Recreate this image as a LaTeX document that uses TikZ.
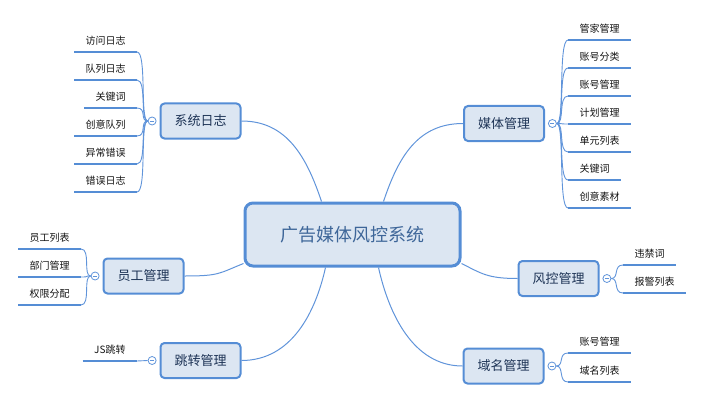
\documentclass[tikz,border=0pt]{standalone}
\usepackage{fontspec}
\setmainfont{Noto Sans CJK SC}
\usepackage{xcolor}
\usepackage{tikz}
\usetikzlibrary{positioning}
\definecolor{mapblue}{RGB}{85,141,213}
\definecolor{linkblue}{RGB}{96,148,218}
\definecolor{boxfill}{RGB}{220,230,242}
\definecolor{roottext}{RGB}{62,102,153}
\definecolor{topictext}{RGB}{30,52,86}
\definecolor{leaftext}{RGB}{20,20,20}

\begin{document}
\begin{tikzpicture}[x=1pt,y=-1pt,
  root/.style={rectangle,rounded corners=8pt,draw=mapblue,fill=boxfill,line width=3pt,
    minimum width=215pt,minimum height=63pt,text=roottext,font=\fontsize{18}{20}\selectfont},
  topic/.style={rectangle,rounded corners=4pt,draw=mapblue,fill=boxfill,line width=2pt,
    minimum width=80pt,minimum height=35pt,text=topictext,font=\fontsize{13}{15}\selectfont},
  leaf/.style={inner xsep=11.5pt,inner ysep=5.2pt,text height=8pt,text depth=2pt,outer sep=0pt,
    text=leaftext,font=\fontsize{10}{12}\selectfont},
  fold/.style={circle,draw=linkblue,fill=white,line width=0.8pt,minimum size=8pt,inner sep=0pt,
    path picture={\draw[linkblue,line width=0.6pt]
      ([xshift=-2pt]path picture bounding box.center) -- ([xshift=2pt]path picture bounding box.center);}},
  branch/.style={draw=linkblue,line width=1pt},
  twig/.style={draw=linkblue,line width=0.9pt},
  underline/.style={draw=mapblue,line width=2.3pt}]

\useasboundingbox (0,0) rectangle (703,401);

% centre and main topics
\node[root] (root) at (352.5,234.5) {广告媒体风控系统};
\node[topic] (xt) at (200.5,121) {系统日志};
\node[topic] (mt) at (504,123.5) {媒体管理};
\node[topic] (yg) at (143.5,276) {员工管理};
\node[topic] (tz) at (200.5,360.5) {跳转管理};
\node[topic] (fk) at (558.5,278.5) {风控管理};
\node[topic] (ym) at (503.5,366) {域名管理};

% fold buttons
\node[fold,left=3pt of xt] (xtf) {};
\node[fold,right=3pt of mt] (mtf) {};
\node[fold,left=3pt of yg] (ygf) {};
\node[fold,left=3pt of tz] (tzf) {};
\node[fold,right=3pt of fk] (fkf) {};
\node[fold,right=3pt of ym] (ymf) {};

% leaves
\node[leaf,anchor=south east] (xt1) at (137,52) {访问日志};
\node[leaf,anchor=south east] (xt2) at (137,80) {队列日志};
\node[leaf,anchor=south east] (xt3) at (137,108) {关键词};
\node[leaf,anchor=south east] (xt4) at (137,136) {创意队列};
\node[leaf,anchor=south east] (xt5) at (137,164) {异常错误};
\node[leaf,anchor=south east] (xt6) at (137,192) {错误日志};

\node[leaf,anchor=south west] (mt1) at (568,40) {管家管理};
\node[leaf,anchor=south west] (mt2) at (568,68) {账号分类};
\node[leaf,anchor=south west] (mt3) at (568,96) {账号管理};
\node[leaf,anchor=south west] (mt4) at (568,124) {计划管理};
\node[leaf,anchor=south west] (mt5) at (568,152) {单元列表};
\node[leaf,anchor=south west] (mt6) at (568,180) {关键词};
\node[leaf,anchor=south west] (mt7) at (568,208) {创意素材};

\node[leaf,anchor=south east] (yg1) at (81,249) {员工列表};
\node[leaf,anchor=south east] (yg2) at (81,277) {部门管理};
\node[leaf,anchor=south east] (yg3) at (81,305) {权限分配};

\node[leaf,anchor=south east] (tz1) at (137,361) {JS跳转};

\node[leaf,anchor=south west] (fk1) at (623,265) {违禁词};
\node[leaf,anchor=south west] (fk2) at (623,293) {报警列表};

\node[leaf,anchor=south west] (ym1) at (568,353) {账号管理};
\node[leaf,anchor=south west] (ym2) at (568,382) {域名列表};

% main branches
\draw[branch] (xt.east) .. controls +(45,0) and +(-15,-45) .. ([xshift=-31pt]root.north);
\draw[branch] (mt.west) .. controls +(-45,0) and +(15,-45) .. ([xshift=31pt]root.north);
\draw[branch] (yg.east) .. controls +(35,0) and +(-25,10) .. ([yshift=4pt]root.south west);
\draw[branch] (tz.east) .. controls +(50,0) and +(-10,45) .. ([xshift=-27pt]root.south);
\draw[branch] (ym.west) .. controls +(-50,0) and +(10,45) .. ([xshift=26pt]root.south);
\draw[branch] ([yshift=4pt]root.south east) .. controls +(20,10) and +(-30,0) .. (fk.west);

% twigs and underlines
\foreach \n in {xt1,xt2,xt3,xt4,xt5,xt6}
  \draw[twig] (xtf.west) .. controls +(-8,0) and +(10,0) .. (\n.south east);
\foreach \n in {mt1,mt2,mt3,mt4,mt5,mt6,mt7}
  \draw[twig] (mtf.east) .. controls +(8,0) and +(-10,0) .. (\n.south west);
\foreach \n in {yg1,yg2,yg3}
  \draw[twig] (ygf.west) .. controls +(-8,0) and +(10,0) .. (\n.south east);
\draw[twig] (tzf.west) -- (tz1.south east);
\foreach \n in {fk1,fk2}
  \draw[twig] (fkf.east) .. controls +(8,0) and +(-10,0) .. (\n.south west);
\foreach \n in {ym1,ym2}
  \draw[twig] (ymf.east) .. controls +(8,0) and +(-10,0) .. (\n.south west);

\foreach \n in {xt1,xt2,xt3,xt4,xt5,xt6,mt1,mt2,mt3,mt4,mt5,mt6,mt7,yg1,yg2,yg3,tz1,fk1,fk2,ym1,ym2}
  \draw[underline] (\n.south west) -- (\n.south east);
\end{tikzpicture}
\end{document}
